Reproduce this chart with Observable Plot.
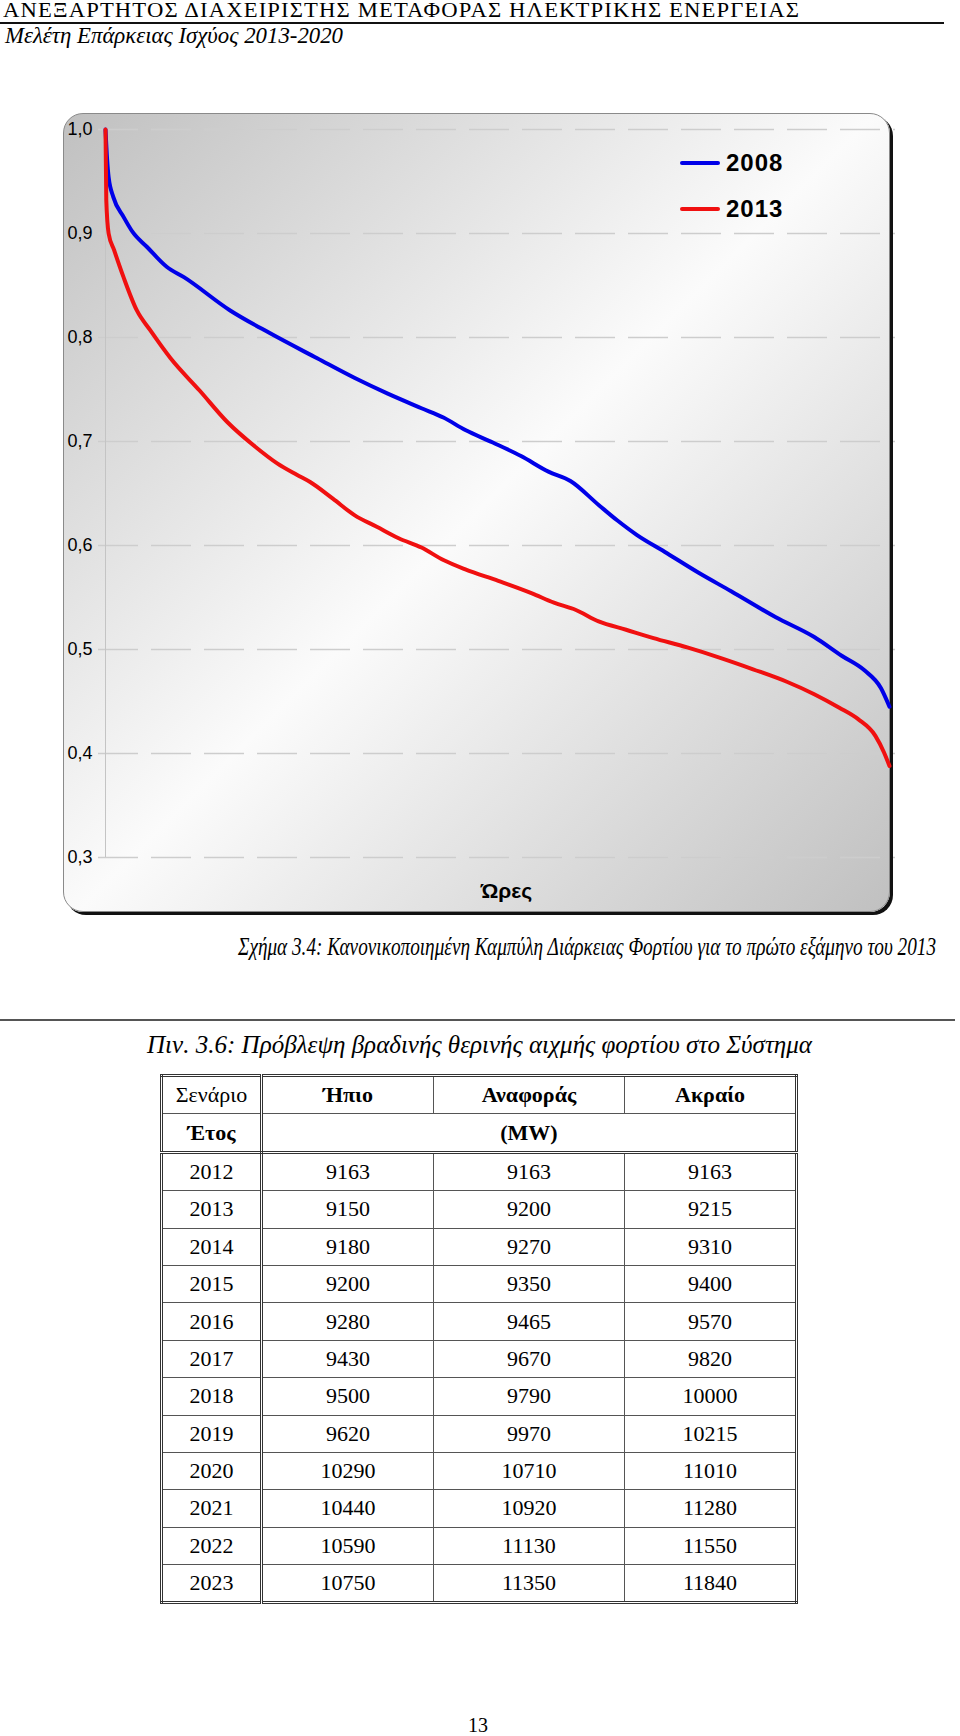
<!DOCTYPE html>
<html>
<head>
<meta charset="utf-8">
<script src="https://cdn.jsdelivr.net/npm/d3@7"></script>
<script src="https://cdn.jsdelivr.net/npm/@observablehq/plot@0.6"></script>
<style>
  html, body { margin: 0; padding: 0; background: #fff; }
  #page { position: relative; width: 960px; height: 1736px; overflow: hidden; font-family: "Liberation Serif", "Times New Roman", serif; color: #000; }
  .abs { position: absolute; white-space: nowrap; }
  .fit { transform-origin: 0 50%; }
  #hdr { left: 3px; top: 0px; font-size: 20px; line-height: 20px; letter-spacing: 1px; }
  #hdrline { left: 0; top: 22px; width: 944px; height: 2px; background: #111; }
  #sub { left: 5px; top: 24px; font-size: 23px; line-height: 23px; font-style: italic; }
  #frame { left: 63px; top: 113px; width: 827px; height: 799px; box-sizing: border-box; border: 1px solid #8a8a8a; border-radius: 20px;
           box-shadow: 3px 3px 0 #111; background: linear-gradient(135deg, #c0c0c0 0%, #fbfbfb 50%, #c0c0c0 100%); }
  #chart { left: 63px; top: 113px; }
  #legend { left: 680px; top: 151px; font-family: "Liberation Sans", Arial, sans-serif; font-weight: bold; font-size: 24px; letter-spacing: 1px; }
  .lrow { display: flex; align-items: center; height: 24px; margin-bottom: 22px; }
  .lsw { width: 40px; height: 4px; border-radius: 2px; margin-right: 6px; }
  #cap1 { left: 238px; top: 934px; font-size: 25px; line-height: 25px; font-style: italic; }
  #rule { left: 0; top: 1019px; width: 955px; height: 2px; background: #555; }
  #cap2 { left: 147px; top: 1032px; font-size: 25px; line-height: 25px; font-style: italic; }
  #tbl { left: 160px; top: 1074px; width: 636px; table-layout: fixed; border-collapse: collapse; border: 3px double #333; font-size: 22px; }
  #tbl td { border: 1px solid #555; text-align: center; height: 36.4px; padding: 0; line-height: 22px; }
  #tbl td.c0 { border-right: 3px double #333; }
  #tbl tr.hdr2 td { border-bottom: 3px double #333; }
  #tbl .b { font-weight: bold; }
  #pgno { left: 0; width: 956px; text-align: center; top: 1715px; font-size: 20px; line-height: 20px; }
</style>
</head>
<body>
<div id="page">
  <div class="abs fit" id="hdr" data-w="797">ΑΝΕΞΑΡΤΗΤΟΣ ΔΙΑΧΕΙΡΙΣΤΗΣ ΜΕΤΑΦΟΡΑΣ ΗΛΕΚΤΡΙΚΗΣ ΕΝΕΡΓΕΙΑΣ</div>
  <div class="abs" id="hdrline"></div>
  <div class="abs fit" id="sub" data-w="338">Μελέτη Επάρκειας Ισχύος 2013-2020</div>
  <div class="abs" id="frame"></div>
  <div class="abs" id="chart"></div>
  <div class="abs" id="legend"></div>
  <div class="abs fit" id="cap1" data-w="698">Σχήμα 3.4: Κανονικοποιημένη Καμπύλη Διάρκειας Φορτίου για το πρώτο εξάμηνο του 2013</div>
  <div class="abs" id="rule"></div>
  <div class="abs fit" id="cap2" data-w="665">Πιν. 3.6: Πρόβλεψη βραδινής θερινής αιχμής φορτίου στο Σύστημα</div>
  <table class="abs" id="tbl"></table>
  <div class="abs" id="pgno">13</div>
</div>
<script>
// ---- Chart data: normalised load duration curves (share of hours in %, load p.u.)
const seriesNames = ["2008", "2013"];
const seriesColors = ["#0000e8", "#f01010"];
const x2008 = [0, 0.2, 0.4, 1, 2.3, 3.5, 5.3, 7.8, 10, 15.9, 21, 27, 31.8, 36, 40.3, 43.1, 45.9, 49.4, 53, 56.5, 59.3, 62.9, 65.3, 67.8, 71.3, 75.6, 79.8, 85.5, 90.4, 93.9, 96.8, 98.9, 100];
const y2008 = [1.0, 0.972, 0.954, 0.935, 0.916, 0.901, 0.887, 0.868, 0.858, 0.826, 0.804, 0.780, 0.761, 0.746, 0.732, 0.723, 0.711, 0.699, 0.686, 0.671, 0.662, 0.639, 0.624, 0.610, 0.594, 0.574, 0.556, 0.531, 0.512, 0.494, 0.480, 0.463, 0.445];
const x2013 = [0, 0.1, 0.4, 1.1, 2.3, 4.0, 5.7, 8.3, 12, 15.5, 19.1, 21.9, 24.4, 26.1, 29, 31.8, 34.6, 37.4, 40.3, 43.1, 45.9, 50.1, 54.4, 57.2, 60, 62.9, 66.4, 69.9, 74.2, 78.4, 82.6, 86.9, 90.4, 93.6, 96, 98.2, 99.3, 100];
const y2013 = [1.0, 0.932, 0.900, 0.884, 0.858, 0.826, 0.807, 0.780, 0.749, 0.719, 0.695, 0.679, 0.668, 0.661, 0.645, 0.629, 0.618, 0.607, 0.598, 0.586, 0.577, 0.566, 0.554, 0.545, 0.538, 0.527, 0.519, 0.511, 0.502, 0.492, 0.481, 0.469, 0.457, 0.444, 0.433, 0.417, 0.401, 0.388];
const yTicks = [0.3, 0.4, 0.5, 0.6, 0.7, 0.8, 0.9, 1.0];
const xLabel = "Ώρες";

// ---- Table data
const tableTitleRow = ["Σενάριο", "Ήπιο", "Αναφοράς", "Ακραίο"];
const tableUnitRow = ["Έτος", "(MW)"];
const years = [2012, 2013, 2014, 2015, 2016, 2017, 2018, 2019, 2020, 2021, 2022, 2023];
const mild = [9163, 9150, 9180, 9200, 9280, 9430, 9500, 9620, 10290, 10440, 10590, 10750];
const reference = [9163, 9200, 9270, 9350, 9465, 9670, 9790, 9970, 10710, 10920, 11130, 11350];
const extreme = [9163, 9215, 9310, 9400, 9570, 9820, 10000, 10215, 11010, 11280, 11550, 11840];

const rows = [
  ...x2008.map((x, i) => ({series: seriesNames[0], x, y: y2008[i]})),
  ...x2013.map((x, i) => ({series: seriesNames[1], x, y: y2013[i]}))
];

const chart = Plot.plot({
  width: 830,
  height: 800,
  marginLeft: 42,
  marginTop: 16,
  marginBottom: 56,
  marginRight: 4,
  style: {background: "transparent", color: "#000", overflow: "visible"},
  x: {domain: [0, 100], axis: null},
  y: {domain: [0.3, 1.0], axis: null},
  color: {domain: seriesNames, range: seriesColors},
  marks: [
    Plot.ruleY(yTicks, {stroke: "#cdcdcd", strokeWidth: 1.5, strokeDasharray: "40,13", insetLeft: -7, insetRight: -6}),
    Plot.ruleX([0], {stroke: "#c4c4c4", strokeWidth: 1}),
    Plot.axisY({ticks: yTicks, tickSize: 0, tickPadding: 13, fontSize: 18, fontFamily: "Liberation Sans, Arial, sans-serif",
      tickFormat: d => d.toFixed(1).replace(".", ","), label: null}),
    Plot.line(rows, {x: "x", y: "y", z: "series", stroke: "series", strokeWidth: 4, curve: "monotone-x", strokeLinejoin: "round"}),
    Plot.text([xLabel], {frameAnchor: "bottom", dy: 40, dx: 9, fontSize: 21, fontWeight: "bold", fontFamily: "Liberation Sans, Arial, sans-serif", fill: "#000"})
  ]
});
document.getElementById("chart").appendChild(chart);

// Legend
const legend = document.getElementById("legend");
seriesNames.forEach((name, i) => {
  const row = document.createElement("div");
  row.className = "lrow";
  const sw = document.createElement("span");
  sw.className = "lsw";
  sw.style.background = seriesColors[i];
  const t = document.createElement("span");
  t.textContent = name;
  row.appendChild(sw); row.appendChild(t);
  legend.appendChild(row);
});

// Table
const tbl = document.getElementById("tbl");
const colWidths = [100, 172, 191, 172];
const cg = document.createElement("colgroup");
colWidths.forEach(w => { const c = document.createElement("col"); c.style.width = w + "px"; cg.appendChild(c); });
tbl.appendChild(cg);
let tr = document.createElement("tr");
tableTitleRow.forEach((txt, i) => {
  const td = document.createElement("td");
  td.textContent = txt;
  if (i === 0) td.className = "c0"; else td.classList.add("b");
  tr.appendChild(td);
});
tbl.appendChild(tr);
tr = document.createElement("tr");
tr.className = "hdr2";
let td = document.createElement("td"); td.textContent = tableUnitRow[0]; td.className = "c0 b"; tr.appendChild(td);
td = document.createElement("td"); td.textContent = tableUnitRow[1]; td.colSpan = 3; td.className = "b"; tr.appendChild(td);
tbl.appendChild(tr);
years.forEach((yr, i) => {
  const r = document.createElement("tr");
  [yr, mild[i], reference[i], extreme[i]].forEach((v, j) => {
    const c = document.createElement("td");
    c.textContent = v;
    if (j === 0) c.className = "c0";
    r.appendChild(c);
  });
  tbl.appendChild(r);
});

// Fit document text lines to the widths they take in the scanned page
document.querySelectorAll(".fit").forEach(el => {
  const w = el.getBoundingClientRect().width;
  const target = +el.dataset.w;
  if (w > 0) el.style.transform = `scaleX(${target / w})`;
});
</script>
</body>
</html>
